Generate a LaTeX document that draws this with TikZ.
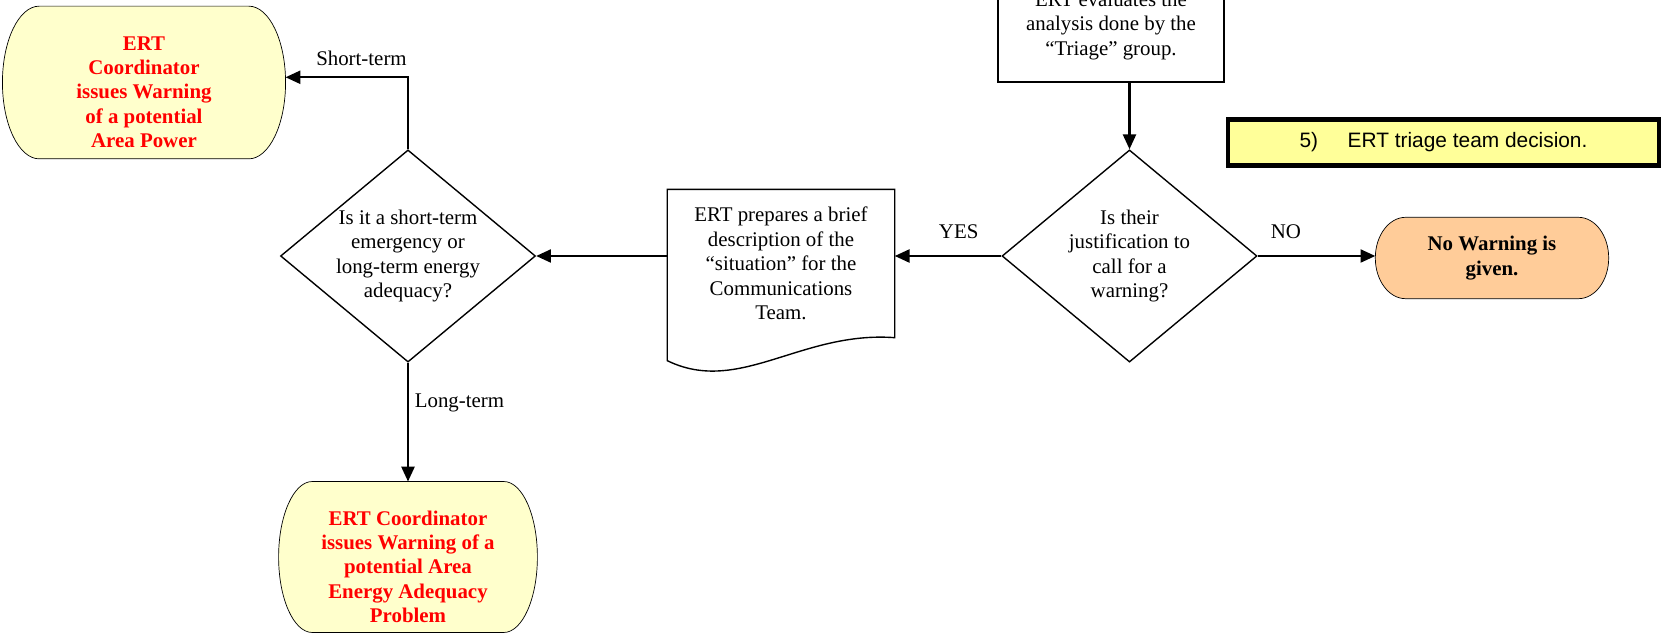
\documentclass[tikz,border=0pt]{standalone}
\usepackage{fontspec}
\setmainfont{Liberation Serif}
\newfontfamily\arialfont{Liberation Sans}
\usetikzlibrary{arrows.meta,
                calc,
                backgrounds,
                shapes.geometric}

\definecolor{termyellow}{HTML}{FFFFCC}
\definecolor{termorange}{HTML}{FFCC99}
\definecolor{notefill}{HTML}{FFFF99}
\definecolor{warnred}{HTML}{FF0000}

\tikzset{
every picture/.style={
line width=0.8pt
}}

\begin{document}
\begin{tikzpicture}[
    x=0.575pt, y=-0.575pt,
    font=\fontsize{12}{14}\selectfont,
      base/.style = {align=center, inner sep=0pt},
  terminal/.style = {base, font=\fontsize{12}{14}\selectfont\bfseries},
   redtext/.style = {terminal, text=warnred, yshift=-5.5pt},
   process/.style = {base, draw, rectangle, minimum width=130pt},
  docshape/.style = {base, minimum width=130pt, minimum height=84.5pt},
  decision/.style = {base, draw, diamond, aspect=1.2, inner sep=-3pt,
                     minimum width=146.6pt, minimum height=122pt},
      note/.style = {draw, line width=2.6pt, fill=notefill,
                     font=\arialfont\fontsize{12}{14}\selectfont,
                     minimum width=248pt, minimum height=26.5pt},
      flow/.style = {line width=1.2pt,
                     arrows={-Triangle[length=8.5pt, width=7.5pt]}}
                    ]
\useasboundingbox (0,0) rectangle (1670,637);
\clip (0,0) rectangle (1670,637);
\node [terminal, minimum width=162pt, minimum height=87pt,
       label={[redtext]center:ERT\\Coordinator\\issues Warning\\of a potential\\Area Power}]
      (warnpow) at (144,82.5) {};
\node [decision] (q1) at (408,256) {Is it a short-term\\emergency or\\long-term energy\\adequacy?};
\node [terminal, minimum width=148pt, minimum height=86pt,
       label={[redtext]center:ERT Coordinator\\issues Warning of a\\potential Area\\Energy Adequacy\\Problem}]
      (warnenergy) at (408,557) {};
\node [docshape] (doc) at (781,263.5) {ERT prepares a brief\\description of the\\“situation” for the\\Communications\\Team.};
\node [process, minimum height=64.4pt] (evalbox) at (1111,26) {ERT evaluates the\\analysis done by the\\“Triage” group.};
\node [decision] (q2) at (1129.5,256) {Is their\\justification to\\call for a\\warning?};
\node [terminal, minimum width=133.4pt, minimum height=46pt]
      (nowarn) at (1492,258) {No Warning is\\given.};
\node [note] (stepnote) at (1443.5,142.5) {5)\hspace{17pt}ERT triage team decision.};
% terminator outlines
\begin{scope}[on background layer]
  \foreach \nd/\c in {warnpow/termyellow, warnenergy/termyellow, nowarn/termorange}
    \draw [fill=\c] let \p1 = (\nd.north west), \p2 = (\nd.south east),
                        \n1 = {0.13*(\x2-\x1)}, \n2 = {(\y1-\y2)/2} in
      (\x1+\n1,\y1) -- (\x2-\n1,\y1)
      arc [start angle=90, end angle=-90, x radius=\n1, y radius=\n2]
      -- (\x1+\n1,\y2)
      arc [start angle=270, end angle=90, x radius=\n1, y radius=\n2]
      -- cycle;
\end{scope}
% document outline
\draw (doc.north west) -- (doc.north east) -- (doc.south east)
      .. controls ($(doc.south east)+(-94,-7)$) and ($(doc.south west)+(72,58)$)
      .. ($(doc.south west)+(0,23)$) -- cycle;
%%
\draw [flow] (evalbox.south -| q2.north) -- (q2.north);
\draw [flow] (q2.west) -- node [above=6pt, pos=.4] (yeslbl) {YES} (q2.west -| doc.east);
\draw [flow] (q2.east) -- node [above=6pt, pos=.24] (nolbl) {NO} (q2.east -| nowarn.west);
\draw [flow] (q1.east -| doc.west) -- (q1.east);
\draw [flow] (q1.north) |- node [above=3pt, pos=.69] (shortlbl) {Short-term} ([yshift=3pt]warnpow.east);
\draw [flow] (q1.south) -- node [right, pos=.34] (longlbl) {Long-term} (warnenergy.north);
\end{tikzpicture}
\end{document}
